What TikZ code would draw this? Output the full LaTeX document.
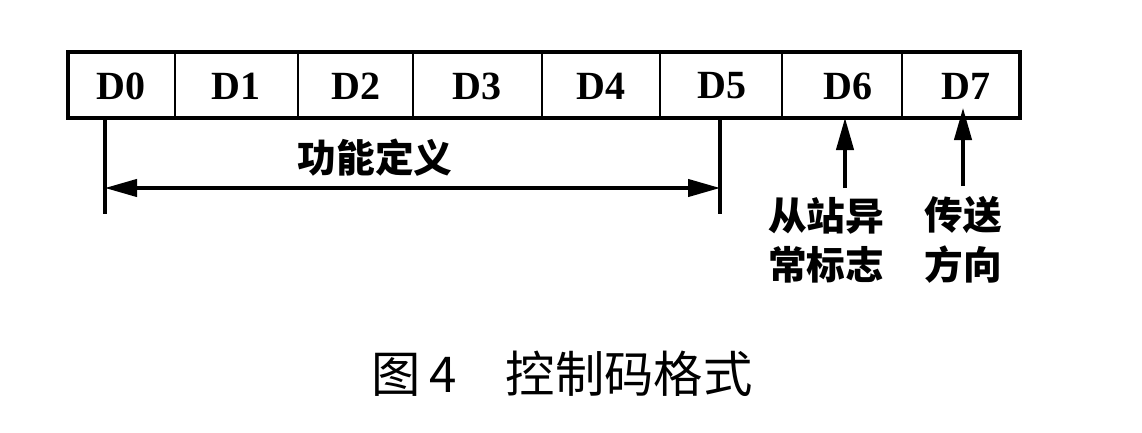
\documentclass[tikz,border=0pt]{standalone}
\usepackage{fontspec}
\setmainfont{Liberation Serif}
\newfontfamily\cjk{Noto Sans CJK SC}
\usetikzlibrary{arrows.meta}
\begin{document}
\begin{tikzpicture}[x=0.75pt,y=-0.75pt,
  cell/.style={font=\bfseries\fontsize{30}{32}\selectfont},
  cn/.style={font=\cjk\bfseries\fontsize{29}{37}\selectfont,align=center},
  ln/.style={line width=2.4pt},
  >={Triangle[length=24pt,width=13pt]}]
\useasboundingbox (0,0) rectangle (1142,432);
\draw[line width=2.6pt] (68,52) rectangle (1020,118);
\foreach \x in {175,298,413,542,660,782,902}
  \draw[line width=1.8pt] (\x,52) -- (\x,118);
\node[cell] (d0) at (121,86) {D0};
\node[cell] (d1) at (236,86) {D1};
\node[cell] (d2) at (356,86) {D2};
\node[cell] (d3) at (477,86) {D3};
\node[cell] (d4) at (601,86) {D4};
\node[cell] (d5) at (722,86) {D5};
\node[cell] (d6) at (848,86) {D6};
\node[cell] (d7) at (966,86) {D7};
\coordinate (l0) at (105,118); \coordinate (l1) at (105,214);
\coordinate (r0) at (720,118); \coordinate (r1) at (720,214);
\draw[ln] (l0) -- (l1);
\draw[ln] (r0) -- (r1);
\coordinate (al) at (105,188); \coordinate (ar) at (720,188);
\draw[ln,<->] (al) -- (ar);
\node[cn] (fn) at (375,158) {功能定义};
\node[cn] (lab6) at (826,240) {从站异\\常标志};
\node[cn] (lab7) at (963,240) {传送\\方向};
\coordinate (t6) at (845,118);
\coordinate (t7) at (963,108);
\draw[ln,->] (845,188) -- (t6);
\draw[ln,->] (963,186) -- (t7);
\node[font=\cjk\fontsize{37}{40}\selectfont] (cap) at (562,374) {图\,4\quad 控制码格式};
\end{tikzpicture}
\end{document}
